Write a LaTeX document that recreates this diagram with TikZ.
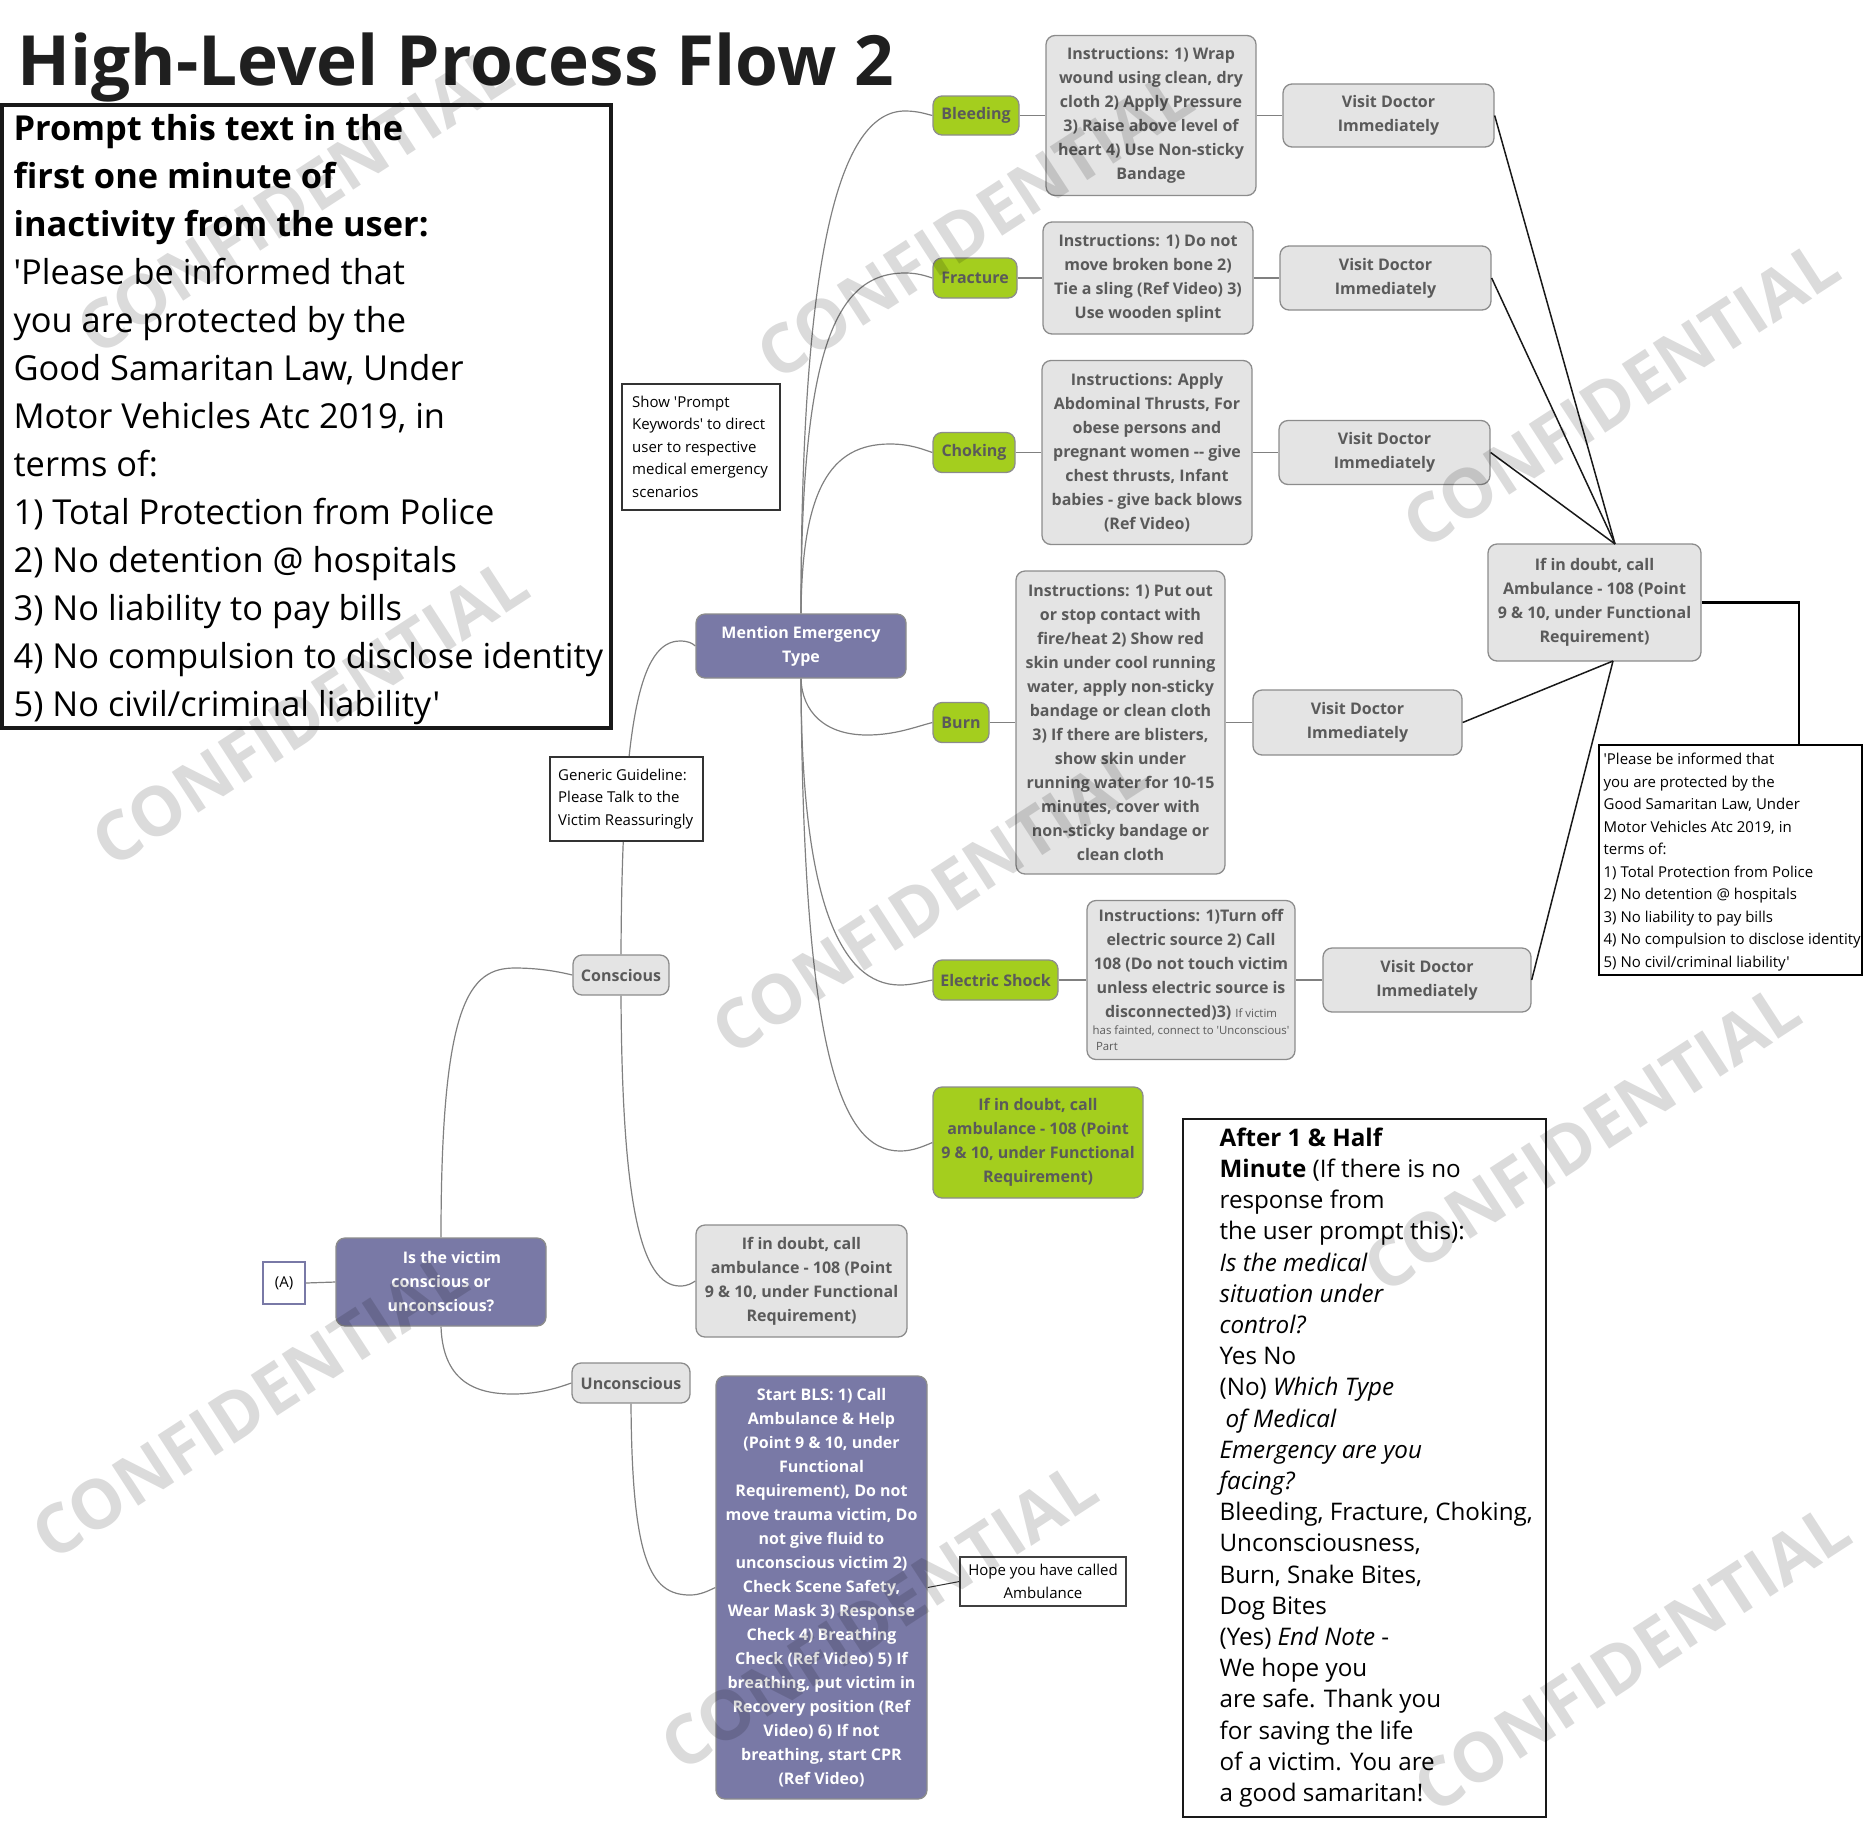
\documentclass[tikz,border=0pt]{standalone}
\usepackage{fontspec}
\newfontfamily\osans{Open Sans}[Ligatures=TeXOff]
\pgfdeclarelayer{bg}
\pgfsetlayers{bg,main}
\definecolor{mmgreen}{RGB}{164,206,30}
\definecolor{mmgrey}{RGB}{228,228,228}
\definecolor{mmpurple}{RGB}{121,121,166}
\definecolor{mmtext}{RGB}{90,90,90}
\definecolor{mmline}{RGB}{128,128,128}
\definecolor{mmborder}{RGB}{140,140,140}
\begin{document}
\begin{tikzpicture}[x=1pt,y=-1pt,
  conn/.style={draw=mmline, line width=1.2pt},
  blk/.style={draw=black!90, line width=1.5pt},
  mm/.style={rounded corners=9pt, draw=mmborder, line width=1.3pt, align=center, inner sep=0pt,
    font=\osans\bfseries\fontsize{16}{24}\selectfont, text=mmtext},
  gn/.style={mm, fill=mmgreen},
  gy/.style={mm, fill=mmgrey},
  pp/.style={mm, fill=mmpurple, text=white},
  wh/.style 2 args={minimum width=#1, minimum height=#2},
  plain/.style={font=\osans\fontsize{15}{22.5}\selectfont, text=black},
  txt/.style={anchor=north west, inner sep=0pt, align=left},
  plainbox/.style={draw=black!80, line width=1.5pt, fill=white, inner sep=0pt},
  wm/.style={font=\osans\bfseries\fontsize{68}{68}\selectfont, text=black, text opacity=0.14, rotate=33, inner sep=0pt}
]
\useasboundingbox (0,0) rectangle (1870,1837);

% title
\node[anchor=base west, inner sep=0pt, font=\osans\bfseries\fontsize{69.3}{84}\selectfont, text=black!88] (title) at (17,85) {High-Level Process Flow 2};

% big prompt box
\node[draw=black!90, line width=3.5pt, wh={609}{623}, inner sep=0pt] (bigbox) at (306.4,416.5) {};
\node[txt, font=\osans\fontsize{34.4}{48}\selectfont, text=black] (bigtext) at (13.4,114.3) {\textbf{Prompt this text in the}\\
\textbf{first one minute of}\\
\textbf{inactivity from the user:}\\
'Please be informed that\\
you are protected by the\\
Good Samaritan Law, Under\\
Motor Vehicles Atc 2019, in\\
terms of:\\
1) Total Protection from Police\\
2) No detention @ hospitals\\
3) No liability to pay bills\\
4) No compulsion to disclose identity\\
5) No civil/criminal liability'};

% mind map nodes
\node[pp, wh={210}{64}] (mention) at (801,646) {Mention Emergency\\Type};
\node[gn, wh={86}{39}] (bleeding) at (976,115.5) {Bleeding};
\node[gn, wh={84}{40}] (fracture) at (975,278) {Fracture};
\node[gn, wh={82}{40}] (choking) at (974,452.5) {Choking};
\node[gn, wh={56}{40}] (burn) at (961,722.5) {Burn};
\node[gn, wh={125}{40}] (elec) at (995.5,980) {Electric Shock};
\node[gn, wh={210}{111}] (gdoubt) at (1038,1142.5) {If in doubt, call\\ambulance - 108 (Point\\9 \& 10, under Functional\\Requirement)};

\node[gy, wh={210}{160}] (bleedinstr) at (1151,115.5) {Instructions: 1) Wrap\\wound using clean, dry\\cloth 2) Apply Pressure\\3) Raise above level of\\heart 4) Use Non-sticky\\Bandage};
\node[gy, wh={210}{112}] (fracinstr) at (1148,278) {Instructions: 1) Do not\\move broken bone 2)\\Tie a sling (Ref Video) 3)\\Use wooden splint};
\node[gy, wh={210}{184}] (chokeinstr) at (1147,452.5) {Instructions: Apply\\Abdominal Thrusts, For\\obese persons and\\pregnant women -{}- give\\chest thrusts, Infant\\babies - give back blows\\(Ref Video)};
\node[gy, wh={209}{303}] (burninstr) at (1120.5,722.5) {Instructions: 1) Put out\\or stop contact with\\fire/heat 2) Show red\\skin under cool running\\water, apply non-sticky\\bandage or clean cloth\\3) If there are blisters,\\show skin under\\running water for 10-15\\minutes, cover with\\non-sticky bandage or\\clean cloth};
\node[gy, wh={208}{159}] (elecinstr) at (1191,980) {Instructions: 1)Turn off\\electric source 2) Call\\108 (Do not touch victim\\unless electric source is\\disconnected)3) {\mdseries\fontsize{11.4}{16}\selectfont If victim}\\[-7pt]
{\mdseries\fontsize{11.4}{16}\selectfont has fainted, connect to 'Unconscious'}\\[-8pt]
\makebox[196pt][l]{\mdseries\fontsize{11.4}{16}\selectfont\hspace{3pt}Part}};

\node[gy, wh={211}{63}] (visit1) at (1388.5,115.5) {Visit Doctor\\Immediately};
\node[gy, wh={211}{64}] (visit2) at (1385.5,278) {Visit Doctor\\Immediately};
\node[gy, wh={211}{64}] (visit3) at (1384.5,452.5) {Visit Doctor\\Immediately};
\node[gy, wh={209}{65}] (visit4) at (1357.5,722.5) {Visit Doctor\\Immediately};
\node[gy, wh={208}{64}] (visit5) at (1427,980) {Visit Doctor\\Immediately};
\node[gy, wh={213}{117}] (ambR) at (1594.5,602.5) {If in doubt, call\\Ambulance - 108 (Point\\9 \& 10, under Functional\\Requirement)};

\node[plainbox, wh={158}{126}] (prompt) at (701,447) {};
\node[txt, plain] (prompttext) at (632,395.6) {Show 'Prompt\\Keywords' to direct\\user to respective\\medical emergency\\scenarios};
\node[plainbox, wh={153}{84}] (generic) at (626.5,799) {};
\node[txt, plain] (generictext) at (558,768.6) {Generic Guideline:\\Please Talk to the\\Victim Reassuringly};

\node[gy, wh={96}{40}] (conscious) at (621,975) {Conscious};
\node[gy, wh={211}{112}] (ydoubt) at (801.5,1281) {If in doubt, call\\ambulance - 108 (Point\\9 \& 10, under Functional\\Requirement)};
\node[pp, wh={210}{88}] (victim) at (441,1282) {\hspace*{22pt}Is the victim\\conscious or\\unconscious?};
\node[draw=mmpurple, line width=1.8pt, fill=white, wh={42}{42}, inner sep=0pt, plain] (abox) at (284,1283) {(A)};
\node[gy, wh={118}{40}] (unconscious) at (631,1383) {Unconscious};
\node[pp, wh={211}{423}] (bls) at (821.5,1587.5) {Start BLS: 1) Call\\Ambulance \& Help\\(Point 9 \& 10, under\\Functional\\Requirement), Do not\\move trauma victim, Do\\not give fluid to\\unconscious victim 2)\\Check Scene Safety,\\Wear Mask 3) Response\\Check 4) Breathing\\Check (Ref Video) 5) If\\breathing, put victim in\\Recovery position (Ref\\Video) 6) If not\\breathing, start CPR\\(Ref Video)};
\node[plainbox, draw=black!75, line width=1.3pt, wh={166}{49}, plain, align=center] (hope) at (1043,1581.5) {Hope you have called\\Ambulance};

% callout right
\node[draw=black, line width=2.2pt, fill=white, wh={263}{230}, inner sep=0pt] (callout) at (1730.5,860) {};
\node[txt, plain] (callouttext) at (1603.4,753) {'Please be informed that\\you are protected by the\\Good Samaritan Law, Under\\Motor Vehicles Atc 2019, in\\terms of:\\1) Total Protection from Police\\2) No detention @ hospitals\\3) No liability to pay bills\\4) No compulsion to disclose identity\\5) No civil/criminal liability'};

% after box
\node[draw=black!90, line width=2.5pt, wh={363}{698}, inner sep=0pt] (after) at (1364.5,1468) {};
\node[txt, font=\osans\fontsize{24.2}{31.2}\selectfont, text=black] (aftertext) at (1219.4,1127.6) {\textbf{After 1 \& Half}\\
\textbf{Minute} (If there is no\\
response from\\
the user prompt this):\\
\textit{Is the medical}\\
\textit{situation under}\\
\textit{control?}\\
Yes No\\
(No) \textit{Which Type}\\
\hspace*{6pt}\textit{of Medical}\\
\textit{Emergency are you}\\
\textit{facing?}\\
Bleeding, Fracture, Choking,\\
Unconsciousness,\\
Burn, Snake Bites,\\
Dog Bites\\
(Yes) \textit{End Note} -\\
We hope you\\
are safe. Thank you\\
for saving the life\\
of a victim. You are\\
a good samaritan!};

% connectors
\begin{pgfonlayer}{bg}
\draw[conn] (mention.north) .. controls (801,250) and (840,111) .. (905,111) .. controls (918,111) and (926,114) .. (bleeding.west);
\draw[conn] (mention.north) .. controls (801,350) and (835,273) .. (905,273) .. controls (918,273) and (926,276) .. (fracture.west);
\draw[conn] (mention.north) .. controls (802,490) and (830,444) .. (890,444) .. controls (910,444) and (922,449) .. (choking.west);
\draw[conn] (mention.south) .. controls (802,712) and (825,735) .. (867,735) .. controls (895,735) and (915,727) .. (burn.west);
\draw[conn] (mention.south) .. controls (801,900) and (840,985) .. (900,985) .. controls (912,985) and (922,982) .. (elec.west);
\draw[conn] (mention.south) .. controls (803,1050) and (840,1151) .. (900,1151) .. controls (912,1151) and (922,1147) .. (gdoubt.west);
\draw[conn] (conscious.north) .. controls (622,720) and (640,641) .. (680,641) .. controls (688,641) and (692,643) .. (mention.west);
\draw[conn] (victim.north) .. controls (441,1000) and (470,968) .. (515,968) .. controls (540,968) and (560,972) .. (conscious.west);
\draw[conn] (victim.south) .. controls (443,1385) and (480,1394) .. (513,1394) .. controls (540,1394) and (560,1387) .. (unconscious.west);
\draw[conn] (conscious.south) .. controls (622,1200) and (640,1286) .. (680,1286) .. controls (688,1286) and (692,1283) .. (ydoubt.west);
\draw[conn] (unconscious.south) .. controls (632,1560) and (650,1595) .. (690,1595) .. controls (700,1595) and (708,1591) .. (bls.west);
\draw[conn] (abox.east) -- (victim.west);
\draw[conn] (bleeding.east) -- (bleedinstr.west);
\draw[conn] (bleedinstr.east) -- (visit1.west);
\draw[conn] (fracture.east) -- (fracinstr.west);
\draw[conn] (fracinstr.east) -- (visit2.west);
\draw[conn] (choking.east) -- (chokeinstr.west);
\draw[conn] (chokeinstr.east) -- (visit3.west);
\draw[conn] (burn.east) -- (burninstr.west);
\draw[conn] (burninstr.east) -- (visit4.west);
\draw[conn] (elec.east) -- (elecinstr.west);
\draw[conn] (elecinstr.east) -- (visit5.west);
\draw[draw=black!80, line width=1pt] (bls.east) -- (hope.west);
\end{pgfonlayer}

\coordinate (ambtop) at (1615,544);
\coordinate (ambbot) at (1613,661);
\draw[blk] (visit1.east) -- (ambtop);
\draw[blk] (visit2.east) -- (ambtop);
\draw[blk] (visit3.east) -- (ambtop);
\draw[blk] (visit4.east) -- (ambbot);
\draw[blk] (visit5.east) -- (ambbot);
\coordinate (cbend) at (1799,602.5);
\draw[black, line width=2.4pt] (ambR.east) -- (cbend) -- (cbend |- callout.north);

% watermarks
\node[wm] (wm1) at (295,200) {CONFIDENTIAL};
\node[wm] (wm2) at (975,225) {CONFIDENTIAL};
\node[wm] (wm3) at (1621,394) {CONFIDENTIAL};
\node[wm] (wm4) at (310,712) {CONFIDENTIAL};
\node[wm] (wm5) at (930,900) {CONFIDENTIAL};
\node[wm] (wm6) at (1582,1138) {CONFIDENTIAL};
\node[wm] (wm7) at (250,1405) {CONFIDENTIAL};
\node[wm] (wm8) at (879,1616) {CONFIDENTIAL};
\node[wm] (wm9) at (1632,1658) {CONFIDENTIAL};
\end{tikzpicture}
\end{document}
